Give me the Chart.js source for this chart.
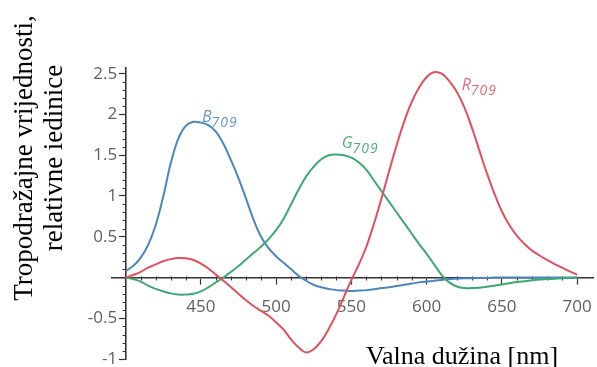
<!DOCTYPE html>
<html>
<head>
<meta charset="utf-8">
<script src="https://cdn.jsdelivr.net/npm/chart.js@4.4.1/dist/chart.umd.min.js"></script>
<style>
  html, body { margin: 0; padding: 0; background: #fff; }
  #wrap { position: relative; width: 597px; height: 367px; overflow: hidden; background: #fff; }
  #c { position: absolute; left: 0; top: 0; }
  .ytitle {
    position: absolute; left: 38px; top: 158px; width: 330px;
    transform: translate(-50%, -50%) rotate(-90deg);
    text-align: center; white-space: nowrap; color: #000;
    font-family: "Liberation Serif", "Times New Roman", serif; font-size: 27px; line-height: 30px;
  }
  .xtitle {
    position: absolute; left: 366px; top: 341px; white-space: nowrap; color: #000;
    font-family: "Liberation Serif", "Times New Roman", serif; font-size: 26px; line-height: 30px;
  }
</style>
</head>
<body>
<div id="wrap">
  <canvas id="c" width="597" height="367"></canvas>
  <div class="ytitle">Tropodražajne vrijednosti,<br>relativne iedinice</div>
  <div class="xtitle">Valna dužina [nm]</div>
</div>
<script>
// Wavelength samples (nm)
const wavelengths = [
  400, 405, 410, 415, 420, 425, 430, 435, 440, 445,
  450, 455, 460, 465, 470, 475, 480, 485, 490, 495,
  500, 505, 510, 515, 520, 525, 530, 535, 540, 545,
  550, 555, 560, 565, 570, 575, 580, 585, 590, 595,
  600, 605, 610, 615, 620, 625, 630, 635, 640, 645,
  650, 655, 660, 665, 670, 675, 680, 685, 690, 695,
  700
];

// Rec. 709 colour-matching functions
const rValues = [
  0.00, 0.03, 0.07, 0.12, 0.16, 0.20, 0.225, 0.24, 0.235, 0.215,
  0.17, 0.11, 0.035, -0.04, -0.12, -0.20, -0.28, -0.35, -0.41, -0.47,
  -0.55, -0.64, -0.76, -0.86, -0.92, -0.88, -0.78, -0.63, -0.45, -0.24,
  -0.03, 0.16, 0.38, 0.66, 0.97, 1.30, 1.62, 1.91, 2.15, 2.33,
  2.46, 2.52, 2.50, 2.41, 2.28, 2.09, 1.84, 1.56, 1.28, 1.03,
  0.81, 0.64, 0.51, 0.41, 0.33, 0.27, 0.215, 0.165, 0.12, 0.075,
  0.035
];
const gValues = [
  0.00, -0.02, -0.05, -0.10, -0.14, -0.17, -0.195, -0.21, -0.21, -0.20,
  -0.17, -0.12, -0.06, 0.00, 0.07, 0.14, 0.22, 0.30, 0.38, 0.47,
  0.58, 0.72, 0.90, 1.08, 1.24, 1.36, 1.45, 1.50, 1.51, 1.50,
  1.47, 1.41, 1.32, 1.19, 1.06, 0.93, 0.80, 0.67, 0.54, 0.41,
  0.29, 0.16, 0.03, -0.06, -0.11, -0.13, -0.13, -0.125, -0.115, -0.10,
  -0.085, -0.07, -0.055, -0.045, -0.035, -0.025, -0.02, -0.015, -0.01, -0.005,
  0.00
];
const bValues = [
  0.08, 0.14, 0.24, 0.40, 0.64, 0.99, 1.40, 1.70, 1.86, 1.91,
  1.90, 1.87, 1.79, 1.64, 1.44, 1.22, 0.97, 0.71, 0.50, 0.36,
  0.26, 0.18, 0.10, 0.02, -0.04, -0.09, -0.12, -0.14, -0.155, -0.16,
  -0.165, -0.16, -0.155, -0.145, -0.13, -0.12, -0.105, -0.09, -0.075, -0.06,
  -0.05, -0.04, -0.03, -0.02, -0.015, -0.01, -0.01, -0.005, -0.005, 0.00,
  0.00, 0.00, 0.00, 0.00, 0.00, 0.00, 0.00, 0.00, 0.00, 0.00,
  0.00
];

// Labelled axis ticks
const xTickValues = [450, 500, 550, 600, 650, 700];
const yTickValues = [-1, -0.5, 0, 0.5, 1, 1.5, 2, 2.5];

// Curve names (letter + subscript)
const curveNames = ['R', 'G', 'B'];
const curveSub = '709';

const lineColors = { R: '#e0505d', G: '#3da872', B: '#4a86c0' };
const labelColors = { R: '#e26a77', G: '#4eae78', B: '#6597cc' };
// where each curve name sits, in data units (nm, value at baseline)
const labelAnchors = { R: [623.3, 2.30], G: [543.6, 1.59], B: [450.7, 1.91] };

const toPoints = vals => wavelengths.map((w, i) => ({ x: w, y: vals[i] }));
const series = { R: rValues, G: gValues, B: bValues };

const AXIS_COLOR = '#333';
const TICK_FONT = { family: '"Open Sans", sans-serif', size: 17 };

const minorTicks = {
  id: 'minorTicks',
  beforeDatasetsDraw(chart) {
    const { ctx, scales: { x, y } } = chart;
    const ax = x.getPixelForValue(400);
    const ay = y.getPixelForValue(0);
    ctx.save();
    ctx.strokeStyle = AXIS_COLOR;
    ctx.lineWidth = 1;
    ctx.beginPath();
    for (let i = 41; i <= 70; i++) {
      if (i % 5 === 0) continue;
      const px = Math.round(x.getPixelForValue(i * 10)) + 0.5;
      ctx.moveTo(px, ay - 1);
      ctx.lineTo(px, ay + 3);
    }
    for (let i = -10; i <= 25; i++) {
      if (i % 5 === 0) continue;
      const py = Math.round(y.getPixelForValue(i / 10)) + 0.5;
      ctx.moveTo(ax - 3, py);
      ctx.lineTo(ax, py);
    }
    ctx.stroke();
    ctx.restore();
  }
};

const curveLabels = {
  id: 'curveLabels',
  afterDatasetsDraw(chart) {
    const { ctx, scales: { x, y } } = chart;
    ctx.save();
    ctx.textBaseline = 'alphabetic';
    ctx.textAlign = 'left';
    curveNames.forEach(name => {
      const [wx, wy] = labelAnchors[name];
      const px = x.getPixelForValue(wx);
      const py = y.getPixelForValue(wy);
      ctx.fillStyle = labelColors[name];
      ctx.font = 'italic 16px "Open Sans", sans-serif';
      ctx.letterSpacing = '0px';
      ctx.fillText(name, px, py);
      const w = ctx.measureText(name).width;
      ctx.font = 'italic 14px "Open Sans", sans-serif';
      ctx.letterSpacing = '1px';
      ctx.fillText(curveSub, px + w, py + 5);
    });
    ctx.restore();
  }
};

const noFitSize = (s, horizontal) => {
  if (horizontal) s.height = 0; else s.width = 0;
  s.paddingTop = 0; s.paddingBottom = 0; s.paddingLeft = 0; s.paddingRight = 0;
};

const Y_MIN = -1, Y_MAX = 2.57;

new Chart(document.getElementById('c'), {
  type: 'line',
  data: {
    datasets: curveNames.map(name => ({
      label: name + curveSub,
      data: toPoints(series[name]),
      borderColor: lineColors[name],
      borderWidth: 2,
      pointRadius: 0,
      fill: false,
      tension: 0.4,
      xAxisID: 'x',
      yAxisID: 'y'
    }))
  },
  options: {
    responsive: false,
    animation: false,
    events: [],
    layout: { padding: { left: 112, right: 4, top: 68, bottom: 8 } },
    plugins: { legend: { display: false }, tooltip: { enabled: false }, title: { display: false } },
    scales: {
      x: {
        type: 'linear',
        min: 391,
        max: 710.5,
        position: { y: 0 },
        afterBuildTicks: s => { s.ticks = xTickValues.map(v => ({ value: v })); },
        afterFit: s => noFitSize(s, true),
        ticks: {
          autoSkip: false,
          maxRotation: 0,
          padding: 13,
          color: '#606060',
          font: TICK_FONT,
          callback: v => String(v)
        },
        grid: { drawOnChartArea: false, drawTicks: true, tickLength: 6, tickColor: AXIS_COLOR, tickWidth: 1.2 },
        border: { display: true, color: AXIS_COLOR, width: 1.6 }
      },
      // the vertical axis line with its tick marks, crossing at 400 nm
      y: {
        type: 'linear',
        min: Y_MIN,
        max: Y_MAX,
        position: { x: 400 },
        afterBuildTicks: s => { s.ticks = yTickValues.map(v => ({ value: v })); },
        afterFit: s => noFitSize(s, false),
        ticks: { autoSkip: false, callback: () => '' },
        grid: { drawOnChartArea: false, drawTicks: true, tickLength: 6, tickColor: AXIS_COLOR, tickWidth: 1.2 },
        border: { display: true, color: AXIS_COLOR, width: 1.6 }
      },
      // the numbers of the vertical axis, set just left of its tick marks
      yLabels: {
        type: 'linear',
        axis: 'y',
        min: Y_MIN,
        max: Y_MAX,
        position: { x: 394.4 },
        afterBuildTicks: s => { s.ticks = yTickValues.map(v => ({ value: v })); },
        afterFit: s => noFitSize(s, false),
        ticks: {
          autoSkip: false,
          color: '#606060',
          font: TICK_FONT,
          callback: v => (v === 0 ? '' : String(v))
        },
        grid: { display: false },
        border: { display: false }
      }
    }
  },
  plugins: [minorTicks, curveLabels]
});
</script>
</body>
</html>
